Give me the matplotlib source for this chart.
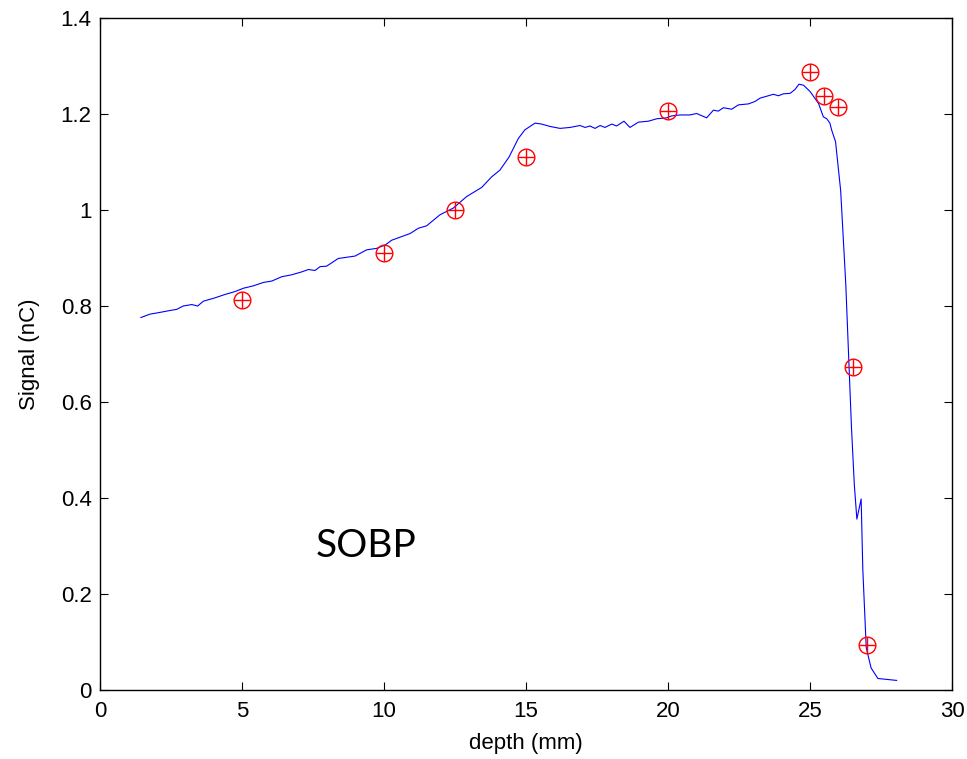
import matplotlib
matplotlib.use("Agg")
import matplotlib.pyplot as plt

# depth-dose curve
depth = [1.44, 1.76, 2.05, 2.41, 2.70, 2.93, 3.23, 3.44, 3.64, 4.05,
         4.40, 4.75, 5.05, 5.40, 5.75, 6.05, 6.40, 6.75, 7.10, 7.34,
         7.57, 7.75, 7.98, 8.16, 8.39, 8.98, 9.39, 9.74, 10.04, 10.27,
         10.92, 11.21, 11.50, 11.97, 12.44, 12.91, 13.44, 13.79, 14.08, 14.40,
         14.73, 14.96, 15.32, 15.55, 15.85, 16.20, 16.55, 16.90, 17.08, 17.25,
         17.43, 17.61, 17.78, 18.02, 18.19, 18.45, 18.66, 18.96, 19.31, 19.60,
         19.95, 20.13, 20.42, 20.77, 21.01, 21.36, 21.60, 21.77, 21.95, 22.24,
         22.48, 22.83, 23.06, 23.24, 23.71, 23.89, 24.06, 24.30, 24.47, 24.61,
         24.77, 25.00, 25.30, 25.47, 25.59, 25.70, 25.76, 25.90, 26.08, 26.26,
         26.38, 26.46, 26.56, 26.65, 26.80, 26.86, 26.98, 27.15, 27.39, 28.05]
signal = [0.776, 0.783, 0.786, 0.790, 0.793, 0.800, 0.803, 0.800, 0.810, 0.817,
          0.824, 0.830, 0.837, 0.842, 0.849, 0.852, 0.861, 0.865, 0.871, 0.876,
          0.874, 0.882, 0.883, 0.890, 0.899, 0.904, 0.917, 0.920, 0.927, 0.937,
          0.951, 0.962, 0.967, 0.990, 1.004, 1.028, 1.047, 1.069, 1.083, 1.110,
          1.149, 1.167, 1.181, 1.179, 1.174, 1.170, 1.172, 1.176, 1.172, 1.175,
          1.170, 1.176, 1.172, 1.179, 1.175, 1.185, 1.172, 1.183, 1.185, 1.190,
          1.192, 1.196, 1.198, 1.198, 1.201, 1.192, 1.208, 1.206, 1.213, 1.210,
          1.219, 1.221, 1.226, 1.233, 1.241, 1.238, 1.242, 1.243, 1.251, 1.262,
          1.260, 1.247, 1.222, 1.194, 1.190, 1.181, 1.167, 1.142, 1.040, 0.845,
          0.666, 0.547, 0.428, 0.356, 0.398, 0.250, 0.088, 0.046, 0.024, 0.020]

# measured points
meas_depth = [5, 10, 12.5, 15, 20, 25, 25.5, 26, 26.5, 27]
meas_signal = [0.812, 0.910, 1.001, 1.110, 1.206, 1.288, 1.238, 1.214, 0.673, 0.094]

plt.rcParams['font.family'] = ['Liberation Sans', 'DejaVu Sans']

fig = plt.figure(figsize=(9.67, 7.59), dpi=100)
ax = fig.add_axes([0.1034, 0.0909, 0.8811, 0.8854])

ax.plot(depth, signal, color='#0000ff', lw=0.8)
ax.plot(meas_depth, meas_signal, 'o', mfc='none', mec='red', ms=12, mew=1.0)
ax.plot(meas_depth, meas_signal, '+', color='red', ms=12, mew=1.0)

ax.text(7.6, 0.30, 'SOBP', fontsize=28, family=['Lato', 'DejaVu Sans'],
        va='center', ha='left')

ax.set_xlim(0, 30)
ax.set_ylim(0, 1.4)
ax.set_xticks([0, 5, 10, 15, 20, 25, 30])
ax.set_yticks([0, 0.2, 0.4, 0.6, 0.8, 1.0, 1.2, 1.4])
ax.set_yticklabels(['0', '0.2', '0.4', '0.6', '0.8', '1', '1.2', '1.4'])
ax.tick_params(direction='in', top=True, right=True, labelsize=16, length=6, width=0.8)
ax.tick_params(axis='x', pad=8)
ax.tick_params(axis='y', pad=6)
for s in ax.spines.values():
    s.set_linewidth(1.0)

ax.set_xlabel('depth (mm)', fontsize=16)
ax.set_ylabel('Signal (nC)', fontsize=16)
ax.xaxis.set_label_coords(0.5, -0.064)
ax.yaxis.set_label_coords(-0.070, 0.5)

fig.savefig('out.png', dpi=100)
